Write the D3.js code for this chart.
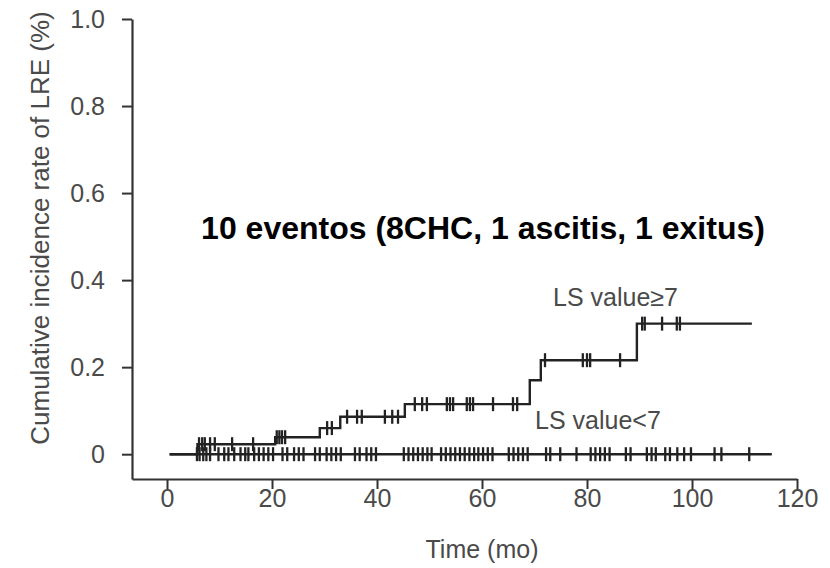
<!DOCTYPE html>
<html>
<head>
<meta charset="utf-8">
<script src="https://cdn.jsdelivr.net/npm/d3@7"></script>
<style>
  body { margin: 0; background: #fff; }
  svg text { font-family: "Liberation Sans", Arial, sans-serif; }
</style>
</head>
<body>
<script>
// step curve for LS value >= 7 (time in months, cumulative incidence)
const highTimes = [0.5, 5.8, 20.6, 29.1, 33.0, 45.3, 69.1, 71.2, 89.5, 111.4];
const highValues = [0, 0.023, 0.039, 0.06, 0.086, 0.115, 0.17, 0.216, 0.30, 0.30];
const highCensored = [6.1, 6.7, 7.2, 8.2, 9.1, 12.4, 16.4, 20.9, 21.4, 21.9, 22.5, 30.5, 31.4,
  34.3, 36.2, 37.1, 41.5, 42.9, 44.0, 47.2, 48.6, 49.5, 53.3, 53.9, 54.5, 57.1, 57.7, 58.3,
  62.1, 65.9, 66.7, 72.0, 79.2, 80.0, 80.6, 86.3, 90.5, 91.0, 94.3, 97.1, 97.7];

// LS value < 7: no events
const lowTimes = [0.5, 115.2];
const lowValues = [0, 0];
const lowCensored = [5.7, 6.2, 6.9, 7.5, 8.2, 9.8, 10.9, 11.7, 12.8, 14.0, 14.9, 15.5, 16.6,
  17.5, 18.4, 19.3, 20.2, 22.0, 22.9, 24.2, 25.1, 26.0, 28.2, 29.1, 30.4, 31.3, 32.2, 33.1,
  35.8, 36.7, 38.0, 38.9, 39.8, 45.1, 46.0, 46.9, 47.8, 48.7, 49.6, 50.4, 52.2, 53.1, 54.0,
  54.9, 55.8, 56.7, 57.6, 58.5, 59.3, 60.2, 61.1, 62.0, 65.1, 66.0, 66.9, 67.8, 68.7, 72.2,
  73.0, 74.9, 78.0, 80.7, 81.6, 82.5, 83.4, 84.3, 87.4, 88.3, 91.4, 92.3, 93.1, 94.9, 95.8,
  97.2, 98.5, 99.8, 104.3, 105.6, 110.9];

const xTicks = [0, 20, 40, 60, 80, 100, 120];
const yTicks = [0, 0.2, 0.4, 0.6, 0.8, 1.0];

const W = 830, H = 568;
const svg = d3.select("body").append("svg")
  .attr("width", W).attr("height", H);

const x = d3.scaleLinear().domain([-6.67, 120]).range([132, 797]);
const y = d3.scaleLinear().domain([-0.057, 1]).range([479, 19]);

const axisColor = "#333";
const textColor = "#4a4a4a";

// x axis
const gx = svg.append("g")
  .attr("transform", "translate(0,479)")
  .call(d3.axisBottom(x).tickValues(xTicks).tickSize(10).tickSizeOuter(0).tickPadding(0));
// y axis
const gy = svg.append("g")
  .attr("transform", "translate(132,0)")
  .call(d3.axisLeft(y).tickValues(yTicks).tickSize(10).tickSizeOuter(0).tickPadding(17)
    .tickFormat(d => d === 0 ? "0" : d.toFixed(1)));

[gx, gy].forEach(g => {
  g.select(".domain").attr("stroke", axisColor).attr("stroke-width", 2.2);
  g.selectAll(".tick line").attr("stroke", axisColor).attr("stroke-width", 2);
  g.selectAll(".tick text").attr("fill", textColor).style("font-size", "25px");
});

// axis titles
svg.append("text")
  .attr("x", x(60)).attr("y", 558)
  .attr("text-anchor", "middle")
  .attr("fill", textColor).style("font-size", "25px")
  .text("Time (mo)");
svg.append("text")
  .attr("transform", `translate(49,228) rotate(-90)`)
  .attr("text-anchor", "middle")
  .attr("fill", textColor).style("font-size", "26px")
  .text("Cumulative incidence rate of LRE (%)");

// step curves
const line = d3.line().x(d => x(d[0])).y(d => y(d[1])).curve(d3.curveStepAfter);

function drawCurve(times, values, censored) {
  const pts = times.map((t, i) => [t, values[i]]);
  svg.append("path")
    .datum(pts)
    .attr("fill", "none")
    .attr("stroke", "#222")
    .attr("stroke-width", 2.4)
    .attr("d", line);
  // value at time t for censor marks
  const valueAt = t => {
    let v = values[0];
    times.forEach((tt, i) => { if (tt <= t) v = values[i]; });
    return v;
  };
  svg.append("g").selectAll("line")
    .data(censored)
    .join("line")
    .attr("x1", d => x(d)).attr("x2", d => x(d))
    .attr("y1", d => y(valueAt(d)) - 7)
    .attr("y2", d => y(valueAt(d)) + 7)
    .attr("stroke", "#222")
    .attr("stroke-width", 2.3);
}

drawCurve(lowTimes, lowValues, lowCensored);
drawCurve(highTimes, highValues, highCensored);

// labels
svg.append("text")
  .attr("x", 553).attr("y", 306)
  .attr("fill", textColor).style("font-size", "25px")
  .text("LS value\u22657");
svg.append("text")
  .attr("x", 535).attr("y", 429)
  .attr("fill", textColor).style("font-size", "25px")
  .text("LS value<7");

svg.append("text")
  .attr("x", 483).attr("y", 239)
  .attr("text-anchor", "middle")
  .attr("fill", "#000").style("font-size", "32px").style("font-weight", "bold")
  .text("10 eventos (8CHC, 1 ascitis, 1 exitus)");
</script>
</body>
</html>
